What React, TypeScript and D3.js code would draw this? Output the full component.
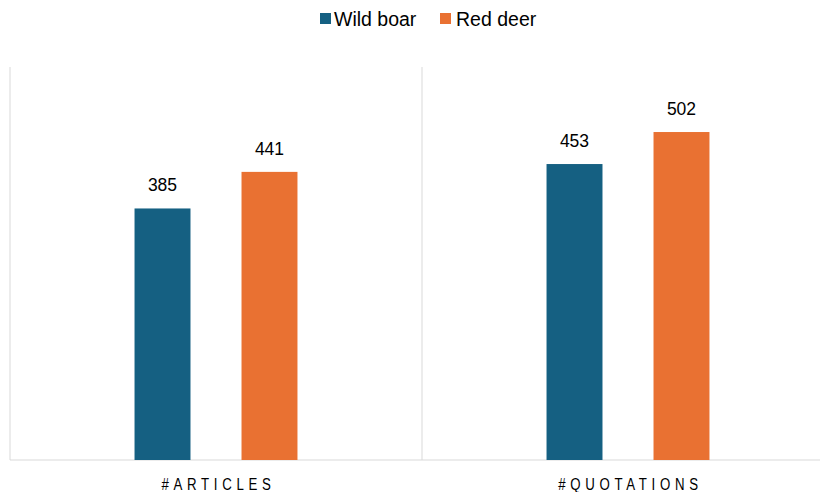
import React from "react";
import * as d3 from "d3";

const categories = ["#ARTICLES", "#QUOTATIONS"];
const seriesNames = ["Wild boar", "Red deer"];
const wildBoar = [385, 453];
const redDeer = [441, 502];
const seriesColors = ["#156082", "#E97132"];

const W = 820;
const H = 492;
const plotLeft = 10;
const plotRight = 834;
const plotTop = 68;
const plotBottom = 460;

export default function App() {
  const values = [wildBoar, redDeer];
  const x0 = d3.scaleBand<string>().domain(categories).range([plotLeft, plotRight]).padding(0);
  const x1 = d3
    .scaleBand<string>()
    .domain(seriesNames)
    .range([0, x0.bandwidth()])
    .paddingInner(0.477)
    .paddingOuter(1.164);
  const y = d3.scaleLinear().domain([0, 600]).range([plotBottom, plotTop]);

  const font = "'Liberation Sans', Arial, sans-serif";

  return (
    <svg
      width={W}
      height={H}
      style={{ position: "absolute", left: 0, top: 0, background: "#fff" }}
    >
      {/* Legend */}
      <g fontFamily={font} fontSize={19.5} fill="#000">
        <rect x={320} y={13} width={11} height={11} fill={seriesColors[0]} />
        <text x={334} y={26}>{seriesNames[0]}</text>
        <rect x={440} y={13} width={11} height={11} fill={seriesColors[1]} />
        <text x={456} y={26}>{seriesNames[1]}</text>
      </g>

      {/* Category separators */}
      {categories.map((c) => (
        <line
          key={c}
          x1={x0(c)!}
          x2={x0(c)!}
          y1={plotTop - 1}
          y2={plotBottom}
          stroke="#d9d9d9"
          strokeWidth={1}
        />
      ))}
      <line x1={plotLeft} x2={plotRight} y1={plotBottom} y2={plotBottom} stroke="#d9d9d9" strokeWidth={1} />

      {/* Bars and value labels */}
      {categories.map((c, ci) => (
        <g key={c} transform={`translate(${x0(c)},0)`}>
          {seriesNames.map((s, si) => {
            const v = values[si][ci];
            const bx = x1(s)!;
            return (
              <g key={s}>
                <rect
                  x={bx}
                  y={y(v)}
                  width={x1.bandwidth()}
                  height={plotBottom - y(v)}
                  fill={seriesColors[si]}
                />
                <text
                  x={bx + x1.bandwidth() / 2}
                  y={y(v) - 17}
                  textAnchor="middle"
                  fontFamily={font}
                  fontSize={17.5}
                  fill="#000"
                >
                  {v}
                </text>
              </g>
            );
          })}
          <g transform={`translate(${x0.bandwidth() / 2 + 2.5},490) scale(0.78,1)`}>
            <text
              x={0}
              y={0}
              textAnchor="middle"
              fontFamily={font}
              fontSize={17}
              letterSpacing={6}
              fill="#000"
            >
              {c}
            </text>
          </g>
        </g>
      ))}
    </svg>
  );
}
